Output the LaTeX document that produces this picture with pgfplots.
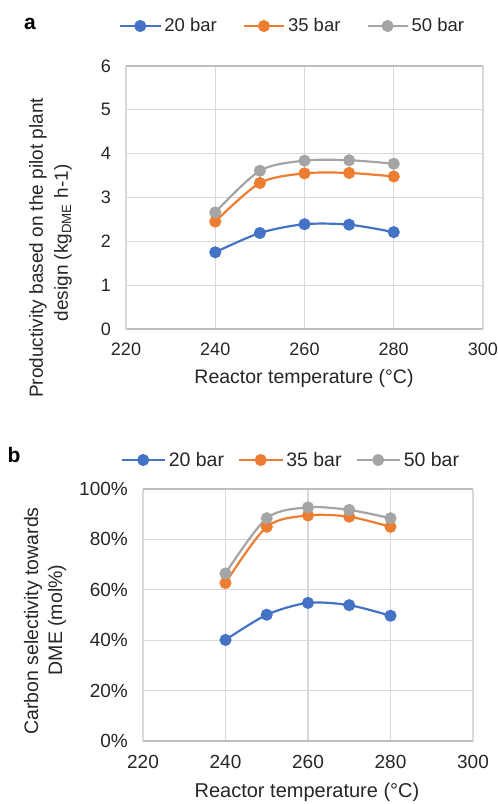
\documentclass[border=0pt]{standalone}
\usepackage{pgfplots}
\pgfplotsset{compat=1.18}
\usepackage{fontspec}
\setmainfont{Liberation Sans}
\definecolor{cblue}{HTML}{4472C4}
\definecolor{corange}{HTML}{ED7D31}
\definecolor{cgray}{HTML}{A5A5A5}
\definecolor{cgrid}{HTML}{D9D9D9}
\definecolor{caxis}{HTML}{BFBFBF}
\definecolor{ctext}{HTML}{262626}
\pgfplotsset{
  common/.style={
    scale only axis,
    xmin=220, xmax=300,
    xtick={220,240,...,300},
    grid=major,
    major grid style={draw=cgrid, line width=1.3pt},
    x axis line style={draw=caxis, line width=1.3pt},
    y axis line style={draw=none},
    separate axis lines,
    major tick length=0pt,
    /pgf/number format/assume math mode=true,
    /pgf/number format/1000 sep={},
    xticklabel style={inner sep=0pt, yshift=-14pt, text=ctext},
    yticklabel style={inner sep=0pt, xshift=-15pt, text=ctext},
    legend columns=3,
    legend cell align=left,
    legend style={draw=none, fill=none, inner sep=0pt,
      /tikz/every even column/.append style={column sep=26pt},
      /tikz/every odd column/.append style={column sep=3pt},
      nodes={inner sep=0pt, text=ctext}},
    every axis plot/.append style={line width=2.2pt, smooth, tension=0.5, mark=*, mark size=4.9pt},
  },
}
\begin{document}
\begin{tikzpicture}[x=1pt,y=1pt]
\useasboundingbox (0,0) rectangle (498,804);
% ---------- panel a ----------
\begin{axis}[common,
  at={(126pt,475pt)}, anchor=south west,
  width=357pt, height=263pt,
  ymin=0, ymax=6, ytick={0,1,...,6},
  ticklabel style={font=\fontsize{18}{20}\selectfont},
  legend style={at={(0.464,1.152)}, anchor=center, font=\fontsize{18.5}{20}\selectfont},
  legend image code/.code={\draw[mark repeat=2,mark phase=2,#1] plot coordinates {(0pt,0pt) (20pt,0pt) (40pt,0pt)};},
]
\addplot[cblue, mark options={fill=cblue}] coordinates {(240,1.75) (250,2.19) (260,2.39) (270,2.38) (280,2.21)};
\addplot[corange, mark options={fill=corange}] coordinates {(240,2.45) (250,3.33) (260,3.55) (270,3.56) (280,3.48)};
\addplot[cgray, mark options={fill=cgray}] coordinates {(240,2.66) (250,3.61) (260,3.84) (270,3.85) (280,3.77)};
\legend{20 bar, 35 bar, 50 bar}
\end{axis}
\node[font=\bfseries\fontsize{21}{22}\selectfont] at (30,780) {a};
\node[rotate=90, font=\fontsize{19}{20}\selectfont, text=ctext] at (38,556) {Productivity based on the pilot plant};
\node[rotate=90, font=\fontsize{19}{20}\selectfont, text=ctext] at (63,561) {design (kg\textsubscript{DME} h-1)};
\node[font=\fontsize{19.5}{20}\selectfont, text=ctext] at (304,426) {Reactor temperature (°C)};
% ---------- panel b ----------
\begin{axis}[common,
  at={(143pt,63pt)}, anchor=south west,
  width=330pt, height=252pt,
  ymin=0, ymax=100, ytick={0,20,...,100},
  yticklabels={0\%,20\%,40\%,60\%,80\%,100\%},
  ticklabel style={font=\fontsize{19}{20}\selectfont},
  legend style={at={(0.445,1.115)}, anchor=center, font=\fontsize{19.5}{21}\selectfont,
    /tikz/every even column/.append style={column sep=14pt}},
  legend image code/.code={\draw[mark repeat=2,mark phase=2,#1] plot coordinates {(0pt,0pt) (21.5pt,0pt) (43pt,0pt)};},
]
\addplot[cblue, mark options={fill=cblue}] coordinates {(240,40.1) (250,50.1) (260,54.8) (270,53.9) (280,49.7)};
\addplot[corange, mark options={fill=corange}] coordinates {(240,62.7) (250,85.0) (260,89.5) (270,89.0) (280,85.0)};
\addplot[cgray, mark options={fill=cgray}] coordinates {(240,66.5) (250,88.4) (260,92.7) (270,91.7) (280,88.4)};
\legend{20 bar, 35 bar, 50 bar}
\end{axis}
\node[font=\bfseries\fontsize{21}{22}\selectfont] at (14,349) {b};
\node[rotate=90, font=\fontsize{19.5}{20}\selectfont, text=ctext] at (33,183) {Carbon selectivity towards};
\node[rotate=90, font=\fontsize{19.5}{20}\selectfont, text=ctext] at (57,184) {DME (mol\%)};
\node[font=\fontsize{20}{21}\selectfont, text=ctext] at (307,12) {Reactor temperature (°C)};
\end{tikzpicture}
\end{document}
